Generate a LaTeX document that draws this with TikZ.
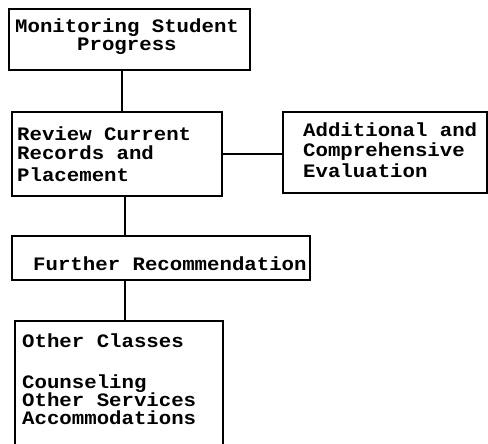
\documentclass[tikz,border=0pt]{standalone}
\usepackage{fontspec}
\newfontfamily\tw{Liberation Mono}[FakeStretch=1.09]
\begin{document}
\begin{tikzpicture}[x=1pt,y=-1pt,
  box/.style={draw, line width=1.6pt, inner sep=0pt},
  link/.style={line width=1.6pt},
  txt/.style={anchor=base west, inner sep=0pt, font=\tw\bfseries\fontsize{19}{19}\selectfont}]
\useasboundingbox[fill=white] (0,0) rectangle (488,444);
% boxes
\node[box, minimum width=241pt, minimum height=61pt] (b1) at (129.5,39.5) {};
\node[box, minimum width=210pt, minimum height=84pt] (b2) at (117,154) {};
\node[box, minimum width=204pt, minimum height=81pt] (b6) at (385,152.5) {};
\node[box, minimum width=298pt, minimum height=44pt] (b4) at (161,258) {};
\node[box, minimum width=208pt, minimum height=130pt] (b5) at (119,386) {};
% texts
\node[txt] (t1a) at (15,33) {Monitoring Student};
\node[txt] (t1b) at (77,51) {Progress};
\node[txt] (t2a) at (17,140) {Review Current};
\node[txt] (t2b) at (17,160) {Records and};
\node[txt] (t2c) at (17,181) {Placement};
\node[txt] (t6a) at (303,137) {Additional and};
\node[txt] (t6b) at (303,157) {Comprehensive};
\node[txt] (t6c) at (303,177) {Evaluation};
\node[txt] (t4) at (33,270) {Further Recommendation};
\node[txt] (t5a) at (22,347) {Other Classes};
\node[txt] (t5b) at (22,388) {Counseling};
\node[txt] (t5c) at (22,406) {Other Services};
\node[txt] (t5d) at (22,424) {Accommodations};
% connectors
\coordinate (xa) at (122,0);
\coordinate (xb) at (125,0);
\draw[link] (b1.south -| xa) -- (b2.north -| xa);
\draw[link] (b2.east) -- (b2.east -| b6.west);
\draw[link] (b2.south -| xb) -- (b4.north -| xb);
\draw[link] (b4.south -| xb) -- (b5.north -| xb);
\end{tikzpicture}
\end{document}
